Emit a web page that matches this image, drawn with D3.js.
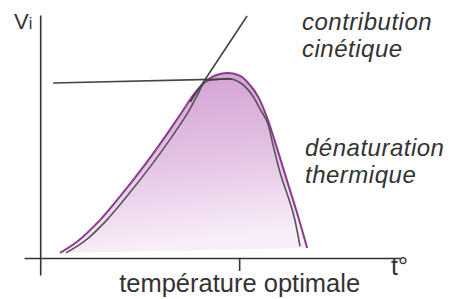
<!DOCTYPE html>
<html>
<head>
<meta charset="utf-8">
<script src="https://cdn.jsdelivr.net/npm/d3@7"></script>
<style>
  body { margin: 0; background: #fff; }
  svg text { font-family: "Liberation Sans", Arial, sans-serif; fill: #333; }
</style>
</head>
<body>
<svg id="chart"></svg>
<script>
// activity curve (outer, purple) : temperature, vi (arbitrary units)
var outerT  = [5.5, 10.5, 16.6, 22.7, 28.6, 34.1, 39.4, 43.6, 47.8, 52.2, 55.6, 58.3, 60.6, 63.1, 65.8, 68.1, 71.4, 74.2];
var outerV  = [2.1, 7.0, 15.6, 26.3, 37.4, 48.6, 60.1, 69.1, 74.5, 76.1, 74.9, 71.2, 66.3, 57.6, 45.3, 34.2, 18.5, 4.1];
// inner grey curve
var innerT  = [7.2, 12.4, 18.5, 24.6, 30.5, 36.0, 41.0, 43.6, 45.8, 49.4, 53.3, 56.1, 58.9, 61.1, 63.1, 64.7, 66.7, 70.3, 72.2];
var innerV  = [2.1, 7.0, 15.6, 26.3, 37.4, 48.6, 59.7, 66.7, 72.4, 73.5, 73.7, 71.6, 67.1, 61.3, 56.0, 46.5, 35.0, 18.5, 4.9];
// contribution cinetique (straight line) and plateau line
var kinT = [41.7, 57.5];
var kinV = [64.2, 99.6];
var plateauT = [3.6, 53.3];
var plateauV = [72.0, 73.7];
var optimum = 55.3;
var xLabel = "température optimale";

var svgWidth = 452, svgHeight = 299;
var svg = d3.select("#chart").attr("width", svgWidth).attr("height", svgHeight);

var x = d3.scaleLinear().domain([-4.5, 100]).range([24, 400]);
var y = d3.scaleLinear().domain([-7, 100]).range([275, 15]);

function pts(ts, vs) { return ts.map(function(t, i) { return [t, vs[i]]; }); }

var line = d3.line()
    .x(function(d) { return x(d[0]); })
    .y(function(d) { return y(d[1]); })
    .curve(d3.curveCatmullRom.alpha(0.5));
var straight = d3.line()
    .x(function(d) { return x(d[0]); })
    .y(function(d) { return y(d[1]); });

var grad = svg.append("defs").append("linearGradient")
    .attr("id", "fillGrad").attr("x1", 0).attr("y1", 0).attr("x2", 0.15).attr("y2", 1);
grad.append("stop").attr("offset", "0%").attr("stop-color", "#d19dd1");
grad.append("stop").attr("offset", "55%").attr("stop-color", "#e4c3e4");
grad.append("stop").attr("offset", "100%").attr("stop-color", "#f8eef8");

// filled area under outer curve
svg.append("path")
    .attr("d", line(pts(outerT, outerV)) + "Z")
    .attr("fill", "url(#fillGrad)")
    .attr("stroke", "none");

svg.append("path")
    .attr("d", line(pts(outerT, outerV)))
    .attr("fill", "none").attr("stroke", "#8a3c8c").attr("stroke-width", 2);

svg.append("path")
    .attr("d", line(pts(innerT, innerV)))
    .attr("fill", "none").attr("stroke", "#555").attr("stroke-width", 1.6);

svg.append("path")
    .attr("d", straight(pts(kinT, kinV)))
    .attr("fill", "none").attr("stroke", "#444").attr("stroke-width", 1.6);

svg.append("path")
    .attr("d", straight(pts(plateauT, plateauV)))
    .attr("fill", "none").attr("stroke", "#444").attr("stroke-width", 1.6);

// axes
var xAxis = svg.append("g")
    .attr("transform", "translate(0," + y(0) + ")")
    .call(d3.axisBottom(x).tickValues([optimum]).tickSize(13).tickSizeOuter(0)
        .tickFormat(function() { return xLabel; }));
var yAxis = svg.append("g")
    .attr("transform", "translate(" + x(0) + ",0)")
    .call(d3.axisLeft(y).tickValues([]).tickSizeOuter(0));

svg.selectAll(".domain, .tick line").attr("stroke", "#333").attr("stroke-width", 1.6);
xAxis.selectAll(".tick text")
    .attr("font-size", 25.5).attr("fill", "#333")
    .style("font-family", "'Liberation Sans', Arial, sans-serif");

// axis titles
var vt = svg.append("text").attr("x", 14).attr("y", 29).attr("font-size", 22);
vt.append("tspan").text("V");
vt.append("tspan").attr("font-size", 16).text("i");

svg.append("text").attr("x", 391).attr("y", 275).attr("font-size", 25).text("t°");

// annotations
var notes = [
  { lines: ["contribution", "cinétique"], x: 302, y: 30 },
  { lines: ["dénaturation", "thermique"], x: 305, y: 156 }
];
notes.forEach(function(n) {
  n.lines.forEach(function(l, i) {
    svg.append("text")
       .attr("x", n.x).attr("y", n.y + i * 27)
       .attr("font-size", 24).attr("letter-spacing", 0.5).attr("font-style", "italic")
       .text(l);
  });
});
</script>
</body>
</html>
